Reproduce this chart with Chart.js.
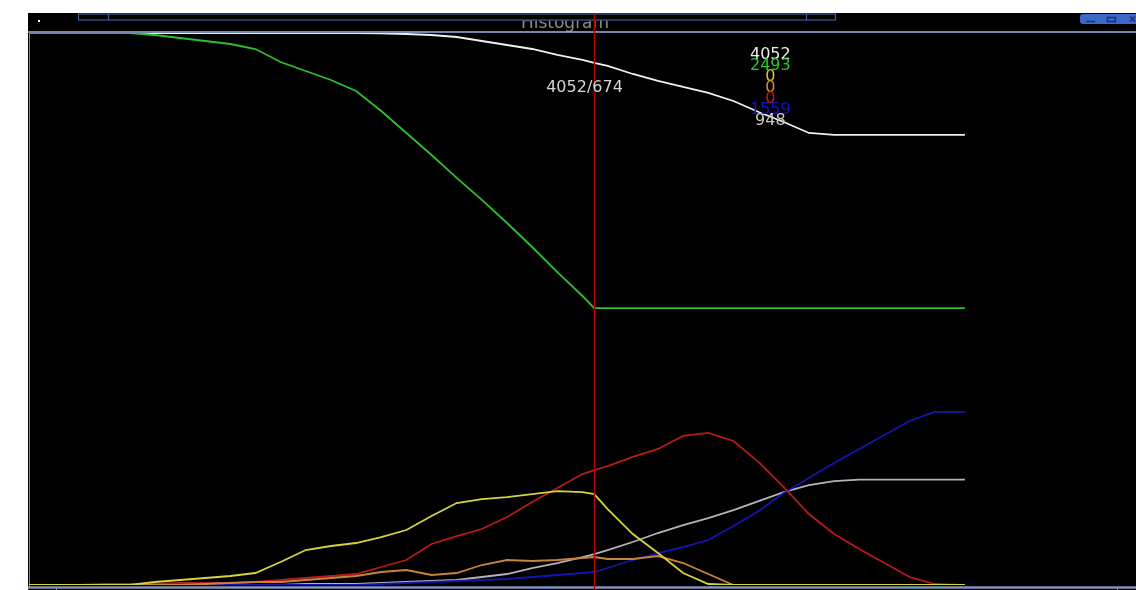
<!DOCTYPE html>
<html>
<head>
<meta charset="utf-8">
<script src="https://cdn.jsdelivr.net/npm/chart.js@4/dist/chart.umd.min.js"></script>
<style>
  html, body { margin: 0; padding: 0; background: #fff; overflow: hidden; }
  canvas { display: block; }
</style>
</head>
<body>
<canvas id="hist" width="1136" height="590"></canvas>
<script>
// Histogram bins sampled along the x axis
const bins = [0, 30, 60, 90, 120, 150, 180, 210, 240, 270,
              300, 330, 360, 390, 420, 450, 480, 510, 540, 570,
              600, 630, 660, 674, 690, 720, 750, 780, 810, 840,
              870, 900, 930, 960, 990, 1020, 1050, 1080, 1110, 1116];

// Counts per series at each bin
const totalCounts = [4970, 4970, 4970, 4970, 4970, 4970, 4970, 4970, 4970, 4970,
                     4970, 4970, 4970, 4970, 4966, 4961, 4952, 4934, 4898, 4862,
                     4826, 4772, 4727, 4700, 4673, 4601, 4538, 4484, 4430, 4358,
                     4259, 4169, 4070, 4052, 4052, 4052, 4052, 4052, 4052, 4052];

const greenCounts = [4970, 4970, 4970, 4970, 4970, 4952, 4925, 4898, 4871, 4826,
                     4709, 4628, 4547, 4448, 4268, 4070, 3872, 3665, 3467, 3259,
                     3043, 2818, 2602, 2493, 2493, 2493, 2493, 2493, 2493, 2493,
                     2493, 2493, 2493, 2493, 2493, 2493, 2493, 2493, 2493, 2493];

const yellowCounts = [0, 0, 0, 0, 0, 27, 45, 63, 81, 108,
                      207, 315, 351, 378, 432, 495, 621, 738, 774, 792,
                      819, 846, 837, 819, 684, 459, 288, 108, 9, 0,
                      0, 0, 0, 0, 0, 0, 0, 0, 0, 0];

const orangeCounts = [0, 0, 0, 0, 0, 0, 0, 9, 18, 27,
                      27, 45, 63, 81, 117, 135, 90, 108, 180, 225,
                      216, 225, 243, 252, 234, 234, 261, 198, 99, 0,
                      0, 0, 0, 0, 0, 0, 0, 0, 0, 0];

const redCounts = [0, 0, 0, 9, 9, 9, 18, 18, 18, 27,
                   45, 63, 81, 99, 162, 225, 369, 441, 504, 612,
                   747, 873, 999, 1035, 1071, 1153, 1225, 1342, 1369, 1297,
                   1107, 882, 639, 459, 324, 198, 72, 9, 0, 0];

const blueCounts = [0, 0, 0, 0, 0, 0, 0, 0, 0, 0,
                    0, 0, 0, 0, 9, 18, 27, 36, 45, 54,
                    72, 90, 108, 117, 153, 225, 288, 342, 405, 531,
                    666, 828, 963, 1098, 1225, 1351, 1477, 1559, 1559, 1559];

const grayCounts = [0, 0, 0, 0, 0, 0, 0, 0, 0, 0,
                    0, 9, 9, 9, 18, 27, 36, 45, 72, 99,
                    153, 198, 252, 279, 315, 387, 468, 540, 603, 675,
                    756, 837, 900, 936, 948, 948, 948, 948, 948, 948];

const cursorBin = 674;
const readoutBin = 884;
const xMax = 1320;
const yMax = 4970;

const toPoints = arr => bins.map((b, i) => ({ x: b, y: arr[i] }));
const last = arr => arr[arr.length - 1];

const series = [
  { data: greenCounts,  color: '#2fbf2f', label: '#28c828' },
  { data: yellowCounts, color: '#d6d43c', label: '#d8c830' },
  { data: orangeCounts, color: '#c8843a', label: '#d08a30' },
  { data: redCounts,    color: '#b81a1a', label: '#cc1010' },
  { data: blueCounts,   color: '#1414b4', label: '#1212c8' },
  { data: grayCounts,   color: '#b4b4b4', label: '#c8c8c8' },
  { data: totalCounts,  color: '#f0f0f0', label: '#ececec' }
];

const FONT = '"DejaVu Sans", Verdana, sans-serif';

// Window frame, title bar, cursor and value readout
const frame = {
  id: 'frame',
  beforeDraw(chart) {
    const c = chart.ctx, W = chart.width, H = chart.height;
    c.save();
    c.fillStyle = '#ffffff';
    c.fillRect(0, 0, W, H);
    c.fillStyle = '#000000';
    c.fillRect(28, 13, W - 28, H - 13);

    // title text, partly hidden under the bar edge
    c.save();
    c.beginPath();
    c.rect(28, 20.5, W - 28, 12);
    c.clip();
    c.fillStyle = '#8c8c8c';
    c.font = '17px ' + FONT;
    c.textAlign = 'center';
    c.textBaseline = 'alphabetic';
    c.fillText('Histogram', 565, 28);
    c.restore();

    // title bar outline
    c.strokeStyle = '#3f5f9a';
    c.lineWidth = 1.2;
    c.strokeRect(78.5, 14, 757, 6);
    c.beginPath();
    c.moveTo(108.5, 14); c.lineTo(108.5, 20);
    c.moveTo(806.5, 14); c.lineTo(806.5, 20);
    c.stroke();

    // small marker at top left
    c.fillStyle = '#ffffff';
    c.fillRect(38, 20, 2, 2);

    // window buttons
    c.fillStyle = '#3c68c6';
    c.beginPath();
    c.roundRect(1080, 14, 70, 10, 3);
    c.fill();
    c.strokeStyle = '#1c2f74';
    c.lineWidth = 1.5;
    c.beginPath();
    c.moveTo(1086, 21.5); c.lineTo(1095, 21.5);
    c.stroke();
    c.strokeRect(1107.5, 17.5, 8, 4);
    c.beginPath();
    c.moveTo(1130, 16.5); c.lineTo(1135, 21.5);
    c.moveTo(1135, 16.5); c.lineTo(1130, 21.5);
    c.stroke();

    // left edge of the plot
    c.strokeStyle = '#8a8a8a';
    c.lineWidth = 1;
    c.beginPath();
    c.moveTo(29.5, 33); c.lineTo(29.5, 587);
    c.stroke();
    c.restore();
  },
  afterDatasetsDraw(chart) {
    const c = chart.ctx, W = chart.width, H = chart.height;
    const xs = chart.scales.x;
    c.save();

    // top and bottom rules
    c.strokeStyle = '#9ab3dc';
    c.lineWidth = 1.5;
    c.beginPath();
    c.moveTo(28, 32); c.lineTo(W, 32);
    c.stroke();
    c.strokeStyle = '#8094bc';
    c.lineWidth = 2.5;
    c.beginPath();
    c.moveTo(28, 587.5); c.lineTo(W, 587.5);
    c.stroke();
    c.lineWidth = 1;
    c.beginPath();
    c.moveTo(56.5, 588); c.lineTo(56.5, 590);
    c.moveTo(1117.5, 588); c.lineTo(1117.5, 590);
    c.stroke();

    // cursor
    const cx = Math.round(xs.getPixelForValue(cursorBin)) + 0.5;
    c.strokeStyle = '#bb0000';
    c.lineWidth = 1.5;
    c.beginPath();
    c.moveTo(cx, 14); c.lineTo(cx, H);
    c.stroke();

    c.font = '16px ' + FONT;
    c.textAlign = 'center';
    c.textBaseline = 'middle';
    c.fillStyle = '#d4d4d4';
    c.fillText(last(totalCounts) + '/' + cursorBin, cx - 10, 88);

    // readout of final values, one per series
    const rx = xs.getPixelForValue(readoutBin);
    const readout = [series[6], series[0], series[1], series[2], series[3], series[4], series[5]];
    readout.forEach((s, i) => {
      c.fillStyle = s.label;
      c.fillText(String(last(s.data)), rx, 55 + i * 11);
    });
    c.restore();
  }
};

new Chart(document.getElementById('hist'), {
  type: 'line',
  data: {
    datasets: series.map((s, i) => ({
      data: toPoints(s.data),
      borderColor: s.color,
      borderWidth: 1.8,
      pointRadius: 0,
      fill: false,
      tension: 0,
      order: i === 0 ? 0 : i + 1
    }))
  },
  options: {
    responsive: false,
    animation: false,
    devicePixelRatio: 1,
    events: [],
    layout: { padding: { left: 29, right: 0, top: 33, bottom: 5 } },
    scales: {
      x: { type: 'linear', min: 0, max: xMax, display: false },
      y: { type: 'linear', min: 0, max: yMax, display: false }
    },
    plugins: {
      legend: { display: false },
      tooltip: { enabled: false },
      title: { display: false }
    }
  },
  plugins: [frame]
});
</script>
</body>
</html>
